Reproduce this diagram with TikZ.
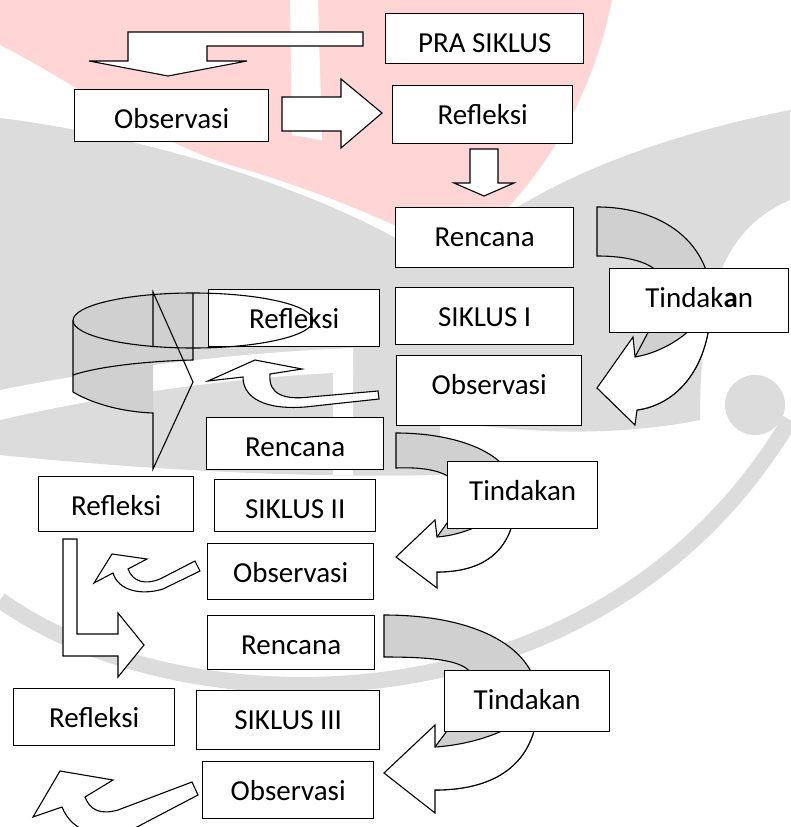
\documentclass[tikz,border=0pt]{standalone}
\usepackage{fontspec}
\setmainfont{Carlito}

\definecolor{wmpink}{RGB}{255,213,213}
\definecolor{wmgray}{RGB}{220,220,220}
\definecolor{backgray}{RGB}{208,208,208}

\tikzset{
	box/.style 2 args={draw, line width=1.4pt, fill=white, anchor=north west, inner sep=0pt,
		minimum width=#1, text height=38.5pt, text depth=#2, font=\fontsize{29}{34}\selectfont},
	blockarrow/.style={draw, line width=1.1pt, fill=white, line join=miter},
	back/.style={draw, line width=1.1pt, fill=backgray},
}

\begin{document}
\begin{tikzpicture}[x=1pt, y=-1pt]

	\useasboundingbox (0,0) rectangle (790,827);
	\fill[white] (0,0) rectangle (790,827);

	% watermark
	\fill[wmpink] (0,0) -- (612,0) .. controls (590,110) and (530,200) .. (455,255) .. controls (380,215) and (300,185) .. (230,165) .. controls (150,140) and (70,80) .. (0,45) -- cycle;
	\fill[white] (290,0) -- (318,0) -- (322,140) -- (292,135) -- cycle;
	\fill[wmgray] (0,118) .. controls (140,135) and (330,190) .. (440,265) -- (440,475) .. controls (300,478) and (150,470) .. (0,455) -- cycle;
	\fill[white] (0,390) .. controls (120,366) and (250,352) .. (353,348) -- (353,372) .. controls (250,376) and (120,392) .. (0,420) -- cycle;
	\fill[white] (333,350) -- (353,348) -- (353,475) -- (333,475) -- cycle;
	\fill[wmgray] (440,265) .. controls (520,190) and (640,140) .. (790,110) -- (790,200) .. controls (720,230) and (700,300) .. (700,420) .. controls (600,440) and (500,430) .. (440,420) -- cycle;
	\draw[wmgray, line width=16pt] (0,600) .. controls (180,730) and (600,740) .. (790,420);
	\fill[wmgray] (755,405) circle (30pt);

	% pra siklus
	\draw[blockarrow] (363,32) -- (128,32) -- (128,61) -- (89,61) -- (168,76) -- (247,61) -- (207,61) -- (207,46) -- (363,46) -- cycle;
	\draw[blockarrow] (282,97) -- (341,97) -- (341,79) -- (382,113) -- (341,148) -- (341,131) -- (282,131) -- cycle;
	\draw[blockarrow] (470,149) -- (498,149) -- (498,183) -- (514,183) -- (484,196) -- (454,183) -- (470,183) -- cycle;
	\node[box={198pt}{11.5pt}] (pra) at (385,13) {PRA SIKLUS};
	\node[box={180pt}{19.5pt}] (ref0) at (392,85) {Refleksi};
	\node[box={194pt}{13.5pt}] (obs0) at (74,89) {Observasi};

	% siklus I
	\draw[back] (597,207) .. controls (665,207) and (711,245) .. (711,300) .. controls (711,370) and (675,405) .. (637,410) -- (635,357) -- (660,310) .. controls (675,285) and (665,256) .. (597,256) -- cycle;
	\draw[blockarrow] (711,300) .. controls (711,370) and (675,405) .. (637,410) -- (635,425) -- (597,388) -- (633,337) -- (635,357) .. controls (665,352) and (700,330) .. (711,300) -- cycle;
	\node[box={178pt}{21.5pt}] (ren1) at (395,207) {Rencana};
	\node[box={178pt}{18.5pt}] (sik1) at (395,287) {SIKLUS I};
	\node[box={185pt}{31.5pt}] (obs1) at (396,355) {Observasi};
	\node[box={179pt}{25.5pt}] (tin1) at (609,268) {Tindak\textbf{a}n};
	\draw[blockarrow] (243,377) -- (208,381) -- (255,360) -- (302,369) -- (270,374) .. controls (268,395) and (285,400) .. (310,397) -- (378,391) -- (379,399) -- (305,407) .. controls (265,410) and (243,398) .. (243,377) -- cycle;
	\fill[backgray] (73,320.5) .. controls (73,305.3) and (126.7,293) .. (193,293) -- (193,360) .. controls (180,360) and (165,361) .. (153,362) -- (153,413) .. controls (125,412) and (95,405) .. (73,392) -- cycle;
	\node[box={171pt}{18.5pt}] (ref1) at (208,289) {Refleksi};
	\draw[line width=1.1pt] (193,320.5) ellipse [x radius=120pt, y radius=27.5pt];
	\draw[line width=1.1pt] (73,320.5) -- (73,392) .. controls (95,405) and (125,412) .. (153,413) -- (153,469) -- (193,382) -- (153,292) -- (153,347);
	\draw[line width=1.1pt] (193,293) -- (193,360) .. controls (150,361) and (100,366) .. (73,375);

	% siklus II
	\draw[back] (396,433) .. controls (460,433) and (516,455) .. (516,495) .. controls (516,545) and (490,572) .. (437,572) -- (437,537) -- (460,505) .. controls (465,480) and (445,466) .. (396,468) -- cycle;
	\draw[blockarrow] (516,495) .. controls (516,545) and (490,572) .. (437,572) -- (437,588) -- (396,557) -- (435,520) -- (437,537) .. controls (465,535) and (500,520) .. (516,495) -- cycle;
	\node[box={177pt}{13.5pt}] (ren2) at (206,417) {Rencana};
	\node[box={161pt}{13.5pt}] (sik2) at (214,479) {SIKLUS II};
	\node[box={166pt}{17.5pt}] (obs2) at (207,543) {Observasi};
	\node[box={155pt}{16.5pt}] (ref2) at (38,476) {Refleksi};
	\node[box={150pt}{28.5pt}] (tin2) at (447,461) {Tindakan};
	\draw[blockarrow] (113,573) -- (94,583) -- (112,554) -- (147,559) -- (128,569) .. controls (133,582) and (145,585) .. (160,579) -- (195,561) -- (200,571) -- (163,589) .. controls (140,596) and (118,590) .. (113,573) -- cycle;
	\draw[blockarrow] (63,539) -- (77,539) -- (77,634) -- (118,634) -- (118,613) -- (144,645) -- (118,677) -- (118,656) -- (63,656) -- cycle;

	% siklus III
	\draw[back] (384,615) .. controls (480,615) and (538,650) .. (538,700) .. controls (538,760) and (500,790) .. (435,790) -- (435,747) -- (470,700) .. controls (485,665) and (460,657) .. (384,657) -- cycle;
	\draw[blockarrow] (538,700) .. controls (538,760) and (500,790) .. (435,790) -- (435,813) -- (384,773) -- (435,725) -- (435,747) .. controls (470,745) and (525,730) .. (538,700) -- cycle;
	\node[box={167pt}{15.5pt}] (ren3) at (207,615) {Rencana};
	\node[box={183pt}{20.5pt}] (sik3) at (196,690) {SIKLUS III};
	\node[box={161pt}{18.5pt}] (ref3) at (13,688) {Refleksi};
	\node[box={171pt}{18.5pt}] (obs3) at (202,761) {Observasi};
	\node[box={165pt}{22.5pt}] (tin3) at (444,670) {Tindakan};
	\draw[blockarrow] (62,807) -- (33,817) -- (60,771) -- (113,780) -- (85,797) .. controls (90,810) and (100,815) .. (118,810) -- (192,782) -- (198,795) -- (135,828) .. controls (100,842) and (72,832) .. (62,807) -- cycle;

\end{tikzpicture}
\end{document}
